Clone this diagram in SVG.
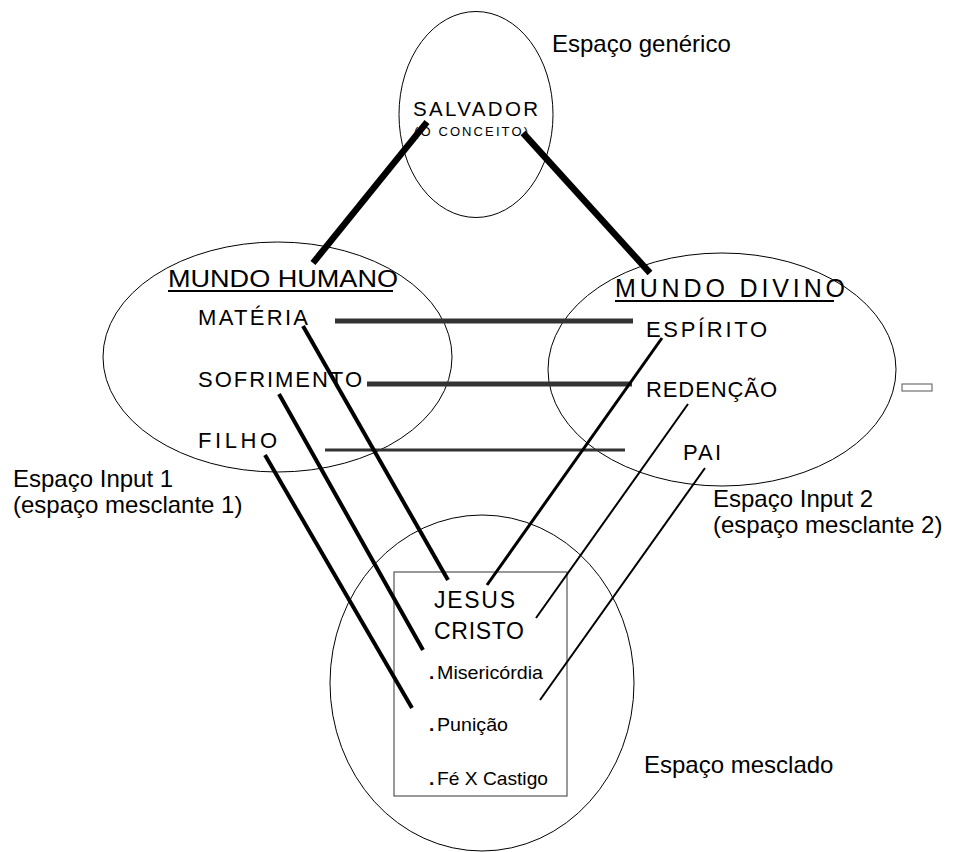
<svg xmlns="http://www.w3.org/2000/svg" width="955" height="852" viewBox="0 0 955 852">
<style>
.sp{fill:none;stroke:#000;stroke-width:1}
.t{font-family:"Liberation Sans",Arial,sans-serif;fill:#000}
.big{font-size:24px}
.node{font-size:22px}
.sm{font-size:19px}
.dot{font-weight:bold}
.ln{stroke:#000;stroke-linecap:butt}
.hz{stroke:#333;stroke-linecap:butt}
</style>
<rect width="955" height="852" fill="#fff"/>
<g id="generic">
<ellipse class="sp" cx="476" cy="114.5" rx="77" ry="103"/>
<text class="t" x="413" y="116" font-size="20.5" textLength="125" lengthAdjust="spacing">SALVADOR</text>
<text class="t" x="414" y="136" font-size="13" textLength="114" lengthAdjust="spacing">(O CONCEITO)</text>
</g>
<g id="human">
<ellipse class="sp" cx="277.5" cy="357" rx="174.5" ry="115"/>
<text class="t big" x="168" y="287" textLength="230" lengthAdjust="spacingAndGlyphs">MUNDO HUMANO</text>
<line x1="168" y1="291" x2="393" y2="291" stroke="#000" stroke-width="2"/>
<text class="t node" x="198" y="325" textLength="110" lengthAdjust="spacing">MATÉRIA</text>
<text class="t node" x="198" y="387" textLength="164" lengthAdjust="spacing">SOFRIMENTO</text>
<text class="t node" x="198" y="448" textLength="79" lengthAdjust="spacing">FILHO</text>
</g>
<g id="divine">
<ellipse class="sp" cx="722" cy="369.5" rx="174" ry="116.5"/>
<text class="t" x="615" y="297" font-size="25" textLength="230" lengthAdjust="spacing">MUNDO DIVINO</text>
<line x1="615" y1="301" x2="834" y2="301" stroke="#000" stroke-width="2"/>
<text class="t node" x="646" y="337" textLength="121" lengthAdjust="spacing">ESPÍRITO</text>
<text class="t node" x="646" y="397" textLength="131" lengthAdjust="spacing">REDENÇÃO</text>
<text class="t node" x="683" y="460" textLength="38" lengthAdjust="spacing">PAI</text>
<rect x="902" y="384" width="30" height="7" fill="#fff" stroke="#555" stroke-width="1"/>
</g>
<g id="blend">
<ellipse class="sp" cx="482" cy="683" rx="152" ry="168"/>
<rect x="394" y="572" width="173" height="224" fill="none" stroke="#555" stroke-width="1.2"/>
<text class="t" x="434" y="608" font-size="23" textLength="81" lengthAdjust="spacing">JESUS</text>
<text class="t" x="434" y="639" font-size="23" textLength="90" lengthAdjust="spacing">CRISTO</text>
<text class="t sm dot" x="429" y="679">.</text>
<text class="t sm" x="437" y="679" textLength="106" lengthAdjust="spacingAndGlyphs">Misericórdia</text>
<text class="t sm dot" x="429" y="731">.</text>
<text class="t sm" x="437" y="731" textLength="71" lengthAdjust="spacingAndGlyphs">Punição</text>
<text class="t sm dot" x="429" y="785">.</text>
<text class="t sm" x="437" y="785" textLength="111" lengthAdjust="spacingAndGlyphs">Fé X Castigo</text>
</g>
<g id="labels">
<text class="t big" x="552" y="52">Espaço genérico</text>
<text class="t big" x="13" y="487">Espaço Input 1</text>
<text class="t big" x="13" y="513">(espaço mesclante 1)</text>
<text class="t big" x="713" y="507">Espaço Input 2</text>
<text class="t big" x="713" y="533">(espaço mesclante 2)</text>
<text class="t big" x="644" y="773">Espaço mesclado</text>
</g>
<g id="connectors">
<line class="ln" x1="427" y1="122" x2="313" y2="263" stroke-width="6.5"/>
<line class="ln" x1="523" y1="133" x2="650" y2="273" stroke-width="6.5"/>
<line class="hz" x1="335" y1="321" x2="633" y2="321" stroke-width="5"/>
<line class="hz" x1="367" y1="384" x2="632" y2="384" stroke-width="5"/>
<line class="hz" x1="325" y1="450" x2="625" y2="450" stroke-width="3"/>
<line class="ln" x1="303" y1="326" x2="448" y2="580" stroke-width="4"/>
<line class="ln" x1="279" y1="394" x2="423" y2="650" stroke-width="4"/>
<line class="ln" x1="265" y1="455" x2="412" y2="708" stroke-width="4"/>
<line class="ln" x1="662" y1="338" x2="487" y2="585" stroke-width="3"/>
<line class="ln" x1="688" y1="404" x2="536" y2="618" stroke-width="2"/>
<line class="ln" x1="705" y1="468" x2="540" y2="700" stroke-width="2"/>
</g>
</svg>
